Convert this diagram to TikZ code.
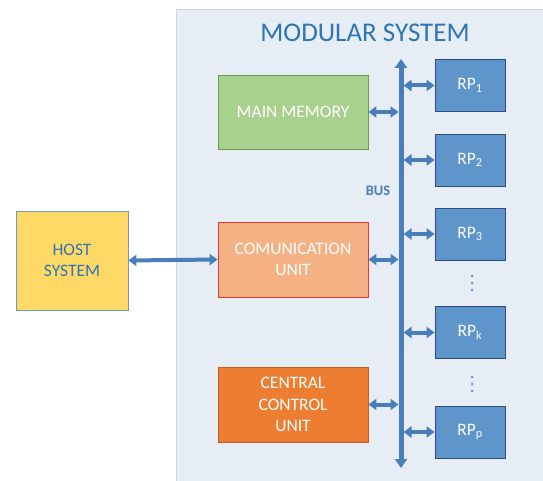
\documentclass[tikz,border=0pt]{standalone}
\usepackage{fontspec}
\setmainfont{Carlito}
\usetikzlibrary{arrows.meta}
\definecolor{panelbg}{HTML}{E6EDF5}
\definecolor{panelln}{HTML}{D0D6DE}
\definecolor{busblue}{HTML}{4A7EBB}
\definecolor{titleblue}{HTML}{2E75B6}
\definecolor{rpfill}{HTML}{5E96CC}
\definecolor{rpline}{HTML}{2F4A86}
\definecolor{memfill}{RGB}{169,209,142}
\definecolor{memline}{RGB}{112,153,80}
\definecolor{comfill}{RGB}{244,177,131}
\definecolor{comline}{RGB}{222,60,50}
\definecolor{ccufill}{RGB}{237,125,49}
\definecolor{cculine}{RGB}{190,95,35}
\definecolor{hostfill}{RGB}{255,217,102}
\definecolor{hostline}{RGB}{110,150,200}
\tikzset{
  x=1pt, y=-1pt,
  unit/.style={draw, line width=0.8pt, text=white, align=center,
    font=\fontsize{17.5}{21.5}\selectfont, inner sep=0pt},
  rpbox/.style={unit, fill=rpfill, draw=rpline, minimum width=70pt, minimum height=52pt},
  link/.style={busblue, line width=4pt,
    {Triangle[width=11pt,length=8pt]}-{Triangle[width=11pt,length=8pt]}},
  dotmark/.style={circle, fill=busblue!80, inner sep=0pt, minimum size=3pt},
}
\begin{document}
\begin{tikzpicture}
\useasboundingbox (0,0) rectangle (543,481);
% system panel
\fill[panelbg] (176,9) rectangle (545,483);
\draw[panelln, line width=0.8pt] (545,9) -- (176,9) -- (176,483);
\node[text=titleblue, font=\fontsize{27}{32}\selectfont] (title) at (365,33) {MODULAR SYSTEM};

% functional units
\node[unit, fill=memfill, draw=memline,
  minimum width=150pt, minimum height=74pt] (mem) at (293,112) {MAIN MEMORY};
\node[unit, fill=comfill, draw=comline,
  minimum width=150pt, minimum height=75pt] (com) at (293,259.5) {COMUNICATION\\UNIT};
\node[unit, fill=ccufill, draw=cculine,
  minimum width=150pt, minimum height=75pt] (ccu) at (293,404.5) {CENTRAL\\CONTROL\\UNIT};
\node[unit, fill=hostfill, draw=hostline,
  text=titleblue, minimum width=112pt, minimum height=99pt] (host) at (72,260.5) {HOST\\SYSTEM};

% reconfigurable processors
\node[rpbox] (rp1) at (470,85.5) {RP\textsubscript{1}};
\node[rpbox] (rp2) at (470,160) {RP\textsubscript{2}};
\node[rpbox] (rp3) at (470,234) {RP\textsubscript{3}};
\node[rpbox] (rpk) at (470,332.5) {RP\textsubscript{k}};
\node[rpbox] (rpp) at (470,432) {RP\textsubscript{p}};

\foreach \y in {276,283,290,377,384,391} \node[dotmark] at (472,\y) {};

% bus
\coordinate (bustop) at (401,59);
\coordinate (busbot) at (401,468);
\draw[busblue, line width=5pt,
  {Triangle[width=12pt,length=9pt]}-{Triangle[width=12pt,length=9pt]}] (bustop) -- (busbot);
\node[text=busblue, font=\fontsize{14.5}{17}\bfseries\selectfont] (buslbl) at (378,191) {BUS};

% connections to the bus
\foreach \n in {mem,com,ccu} \draw[link, shorten >=2.5pt] (\n.east) -- (\n.east -| bustop);
\foreach \n in {rp1,rp2,rp3,rpk,rpp} \draw[link, shorten <=2.5pt] (\n.west -| bustop) -- (\n.west);
\draw[link] (host.east) -- (com.west);
\end{tikzpicture}
\end{document}
